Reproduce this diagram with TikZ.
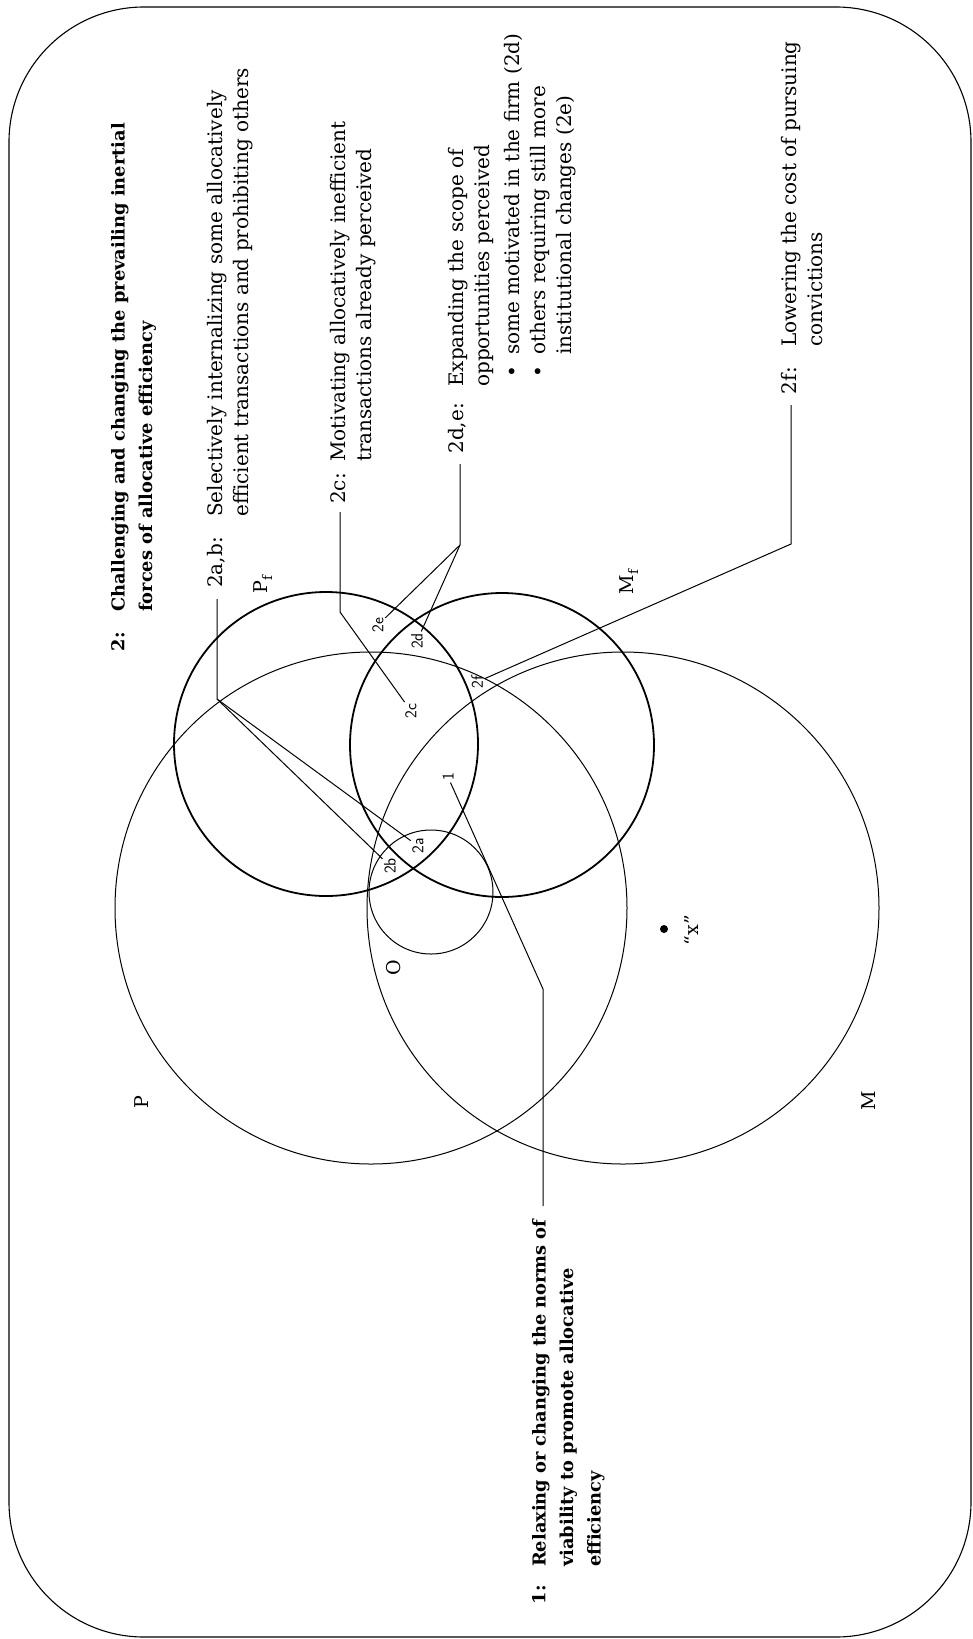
\documentclass[tikz,border=0pt]{standalone}
\usepackage{fontspec}
\setmainfont{DejaVu Serif}
\begin{document}
\begin{tikzpicture}[x=1pt,y=-1pt,
	thinring/.style={line width=1pt},
	thickring/.style={line width=1.8pt},
	lead/.style={line width=1pt},
	txt/.style={rotate=90,anchor=north west,inner sep=0pt,align=left,font=\fontsize{20}{26}\selectfont},
	headtxt/.style={txt,font=\fontsize{17.8}{27.5}\selectfont\bfseries},
	lab/.style={txt,anchor=north east},
	headlab/.style={headtxt,anchor=north east},
	tag/.style={rotate=90,inner sep=1.5pt,font=\fontsize{16.5}{16.5}\selectfont\sffamily},
	setname/.style={rotate=90,inner sep=0pt,font=\fontsize{19}{19}\selectfont}]
	\useasboundingbox (0,0) rectangle (973,1639);
	
	%frame
	\draw[line width=1.1pt,rounded corners=135pt] (9,7) rectangle (971,1637);
	
	%sets
	\draw[thinring] (371,908) circle[radius=256]; %P
	\draw[thinring] (623,908) circle[radius=256]; %M
	\draw[thickring] (326,744) circle[radius=152]; %Pf
	\draw[thickring] (502,745) circle[radius=152]; %Mf
	\draw[thinring] (431,892) circle[radius=62]; %O
	
	%set names
	\node[setname] (nameP) at (142,1102) {P};
	\node[setname] (nameM) at (869,1101) {M};
	\node[setname] (namePf) at (263,584) {P\textsubscript{f}};
	\node[setname] (nameMf) at (629,582) {M\textsubscript{f}};
	\node[setname] (nameO) at (394,968) {O};
	\node[circle,fill=black,inner sep=0pt,minimum size=8pt] (xdot) at (664,929) {};
	\node[setname] (namex) at (691,930) {``x''};
	
	%region tags
	\node[tag] (n2a) at (418,846) {2a};
	\node[tag] (n2b) at (390,866) {2b};
	\node[tag] (n2c) at (411,711) {2c};
	\node[tag] (n2d) at (417,641) {2d};
	\node[tag] (n2e) at (378,625) {2e};
	\node[tag] (n2f) at (477,682) {2f};
	\node[tag] (n1) at (448,777) {1};
	
	%texts
	\node[headlab] (l2) at (111,632) {2:};
	\node[headtxt] (t2) at (111,612) {Challenging and changing the prevailing inertial\\forces of allocative efficiency};
	\node[lab] (l2ab) at (207,537) {2a,b:};
	\node[txt] (t2ab) at (207,517) {Selectively internalizing some allocatively\\efficient transactions and prohibiting others};
	\node[lab] (l2c) at (330,473) {2c:};
	\node[txt] (t2c) at (330,462) {Motivating allocatively inefficient\\transactions already perceived};
	\node[lab] (l2de) at (448,403) {2d,e:};
	\node[txt] (t2de) at (448,387) {Expanding the scope of\\opportunities perceived\\[4pt]
		\makebox[32pt][l]{\hspace{9pt}\textbullet}some motivated in the firm (2d)\\
		\makebox[32pt][l]{\hspace{9pt}\textbullet}others requiring still more\\
		\hspace*{32pt}institutional changes (2e)};
	\node[lab] (l2f) at (781,367) {2f:};
	\node[txt] (t2f) at (781,347) {Lowering the cost of pursuing\\convictions};
	\node[headlab] (l1) at (532,1585) {1:};
	\node[headtxt] (t1) at (532,1567) {Relaxing or changing the norms of\\viability to promote allocative\\efficiency};
	
	%leaders
	\coordinate (s2ab) at (217,599);
	\coordinate (k2ab) at (217,699);
	\draw[lead] (s2ab) -- (k2ab) -- (n2b);
	\draw[lead] (k2ab) -- (n2a);
	\coordinate (s2c) at (340,512);
	\coordinate (k2c) at (340,612);
	\draw[lead] (s2c) -- (k2c) -- (n2c);
	\coordinate (s2de) at (460,464);
	\coordinate (k2de) at (460,545);
	\draw[lead] (s2de) -- (k2de) -- (n2e);
	\draw[lead] (k2de) -- (n2d);
	\coordinate (s2f) at (791,405);
	\coordinate (k2f) at (791,544);
	\draw[lead] (s2f) -- (k2f) -- (n2f);
	\coordinate (s1) at (543,1206);
	\coordinate (k1) at (543,989);
	\draw[lead] (s1) -- (k1) -- (n1);
\end{tikzpicture}
\end{document}
